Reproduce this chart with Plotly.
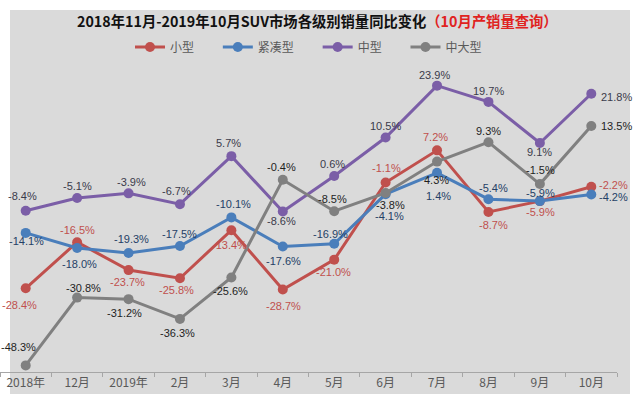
import plotly.graph_objects as go

categories = ["2018年", "12月", "2019年", "2月", "3月", "4月", "5月", "6月", "7月", "8月", "9月", "10月"]
small = [-28.4, -16.5, -23.7, -25.8, -13.4, -28.7, -21.0, -1.1, 7.2, -8.7, -5.9, -2.2]
compact = [-14.1, -18.0, -19.3, -17.5, -10.1, -17.6, -16.9, -4.1, 1.4, -5.4, -5.9, -4.2]
midsize = [-8.4, -5.1, -3.9, -6.7, 5.7, -8.6, 0.6, 10.5, 23.9, 19.7, 9.1, 21.8]
large = [-48.3, -30.8, -31.2, -36.3, -25.6, -0.4, -8.5, -3.8, 4.3, 9.3, -1.5, 13.5]

series_names = ["小型", "紧凑型", "中型", "中大型"]
series_values = [small, compact, midsize, large]
line_colors = ["#c0504d", "#4a7ebb", "#7b5ea7", "#808080"]
label_colors = ["#c0504d", "#243f66", "#3a3a4a", "#1e1e1e"]

# label offsets in pixels (dx right, dy down); last point labelled to the right
label_offsets = [
    [(-6, 17), (0, -12), (-1, 12), (-3, 12), (-2, 15), (1, 17), (-1, 12), (1, -15), (-2, -13), (5, 13), (1, 11), (6, -2)],
    [(1, 8), (2, 16), (3, -14), (0, -12), (2, -13), (1, 15), (-4, -10), (4, 22), (1, 23), (5, -11), (1, -8), (6, 2)],
    [(-3, -15), (0, -12), (3, -11), (-3, -13), (-3, -13), (-1, 9), (-2, -12), (0, -12), (-3, -11), (0, -11), (0, 9), (8, 3)],
    [(-7, -18), (6, -10), (-4, 14), (-2, 14), (-1, 14), (-1, -13), (-2, -12), (5, 12), (-1, 18), (0, -11), (1, -14), (8, 0)],
]

PAD = "\u00a0" * 7

fig = go.Figure()
annotations = []
for name, vals, lc, tc, offs in zip(series_names, series_values, line_colors, label_colors, label_offsets):
    fig.add_trace(go.Scatter(
        x=categories, y=vals, name=name + PAD, mode="lines+markers",
        line=dict(color=lc, width=3), marker=dict(color=lc, size=10),
        cliponaxis=False,
    ))
    n = len(vals)
    for i, (c, v) in enumerate(zip(categories, vals)):
        dx, dy = offs[i]
        annotations.append(dict(
            x=c, y=v, xref="x", yref="y", text=f"{v:.1f}%", showarrow=False,
            xshift=dx, yshift=-dy, xanchor="left" if i == n - 1 else "center",
            yanchor="middle",
            font=dict(family="Liberation Sans, Arial, sans-serif", size=11, color=tc),
        ))

annotations.append(dict(
    xref="paper", yref="paper", x=318 / 617, y=(372 - 21) / 310,
    xanchor="center", yanchor="middle", showarrow=False,
    text="<b>2018年11月-2019年10月SUV市场各级别销量同比变化</b><b><span style='color:#e0231f'>（10月产销量查询）</span></b>",
    font=dict(family="Noto Sans CJK SC", size=14.3, color="#111111"),
))

fig.update_layout(
    width=640, height=404,
    margin=dict(l=0, r=23, t=62, b=32),
    paper_bgcolor="white", plot_bgcolor="rgba(0,0,0,0)",
    showlegend=True,
    legend=dict(
        orientation="h", x=130 / 617, y=(372 - 47) / 310, xanchor="left", yanchor="middle",
        bgcolor="rgba(0,0,0,0)", font=dict(family="Noto Sans CJK SC", size=12, color="#595959"),
        itemwidth=30,
    ),
    annotations=annotations,
    shapes=[dict(
        type="rect", xref="paper", yref="paper", layer="below",
        x0=10 / 617, x1=630 / 617, y0=(372 - 394) / 310, y1=(372 - 10) / 310,
        fillcolor="#dadada", line=dict(width=0),
    )],
)
fig.update_xaxes(
    type="category", range=[-0.5, 11.5], showgrid=False, showline=True, linecolor="#a6a6a6",
    linewidth=1, ticks="outside", tickson="boundaries", ticklen=4, tickcolor="#a6a6a6",
    tickfont=dict(family="Noto Sans CJK SC", size=12, color="#595959"), zeroline=False,
)
fig.update_yaxes(range=[-50, 30], visible=False, showgrid=False, zeroline=False)

fig.write_html(
    "out.html",
    config={"displayModeBar": False},
    post_script="document.body.style.margin='0px';document.body.style.overflow='hidden';",
)
